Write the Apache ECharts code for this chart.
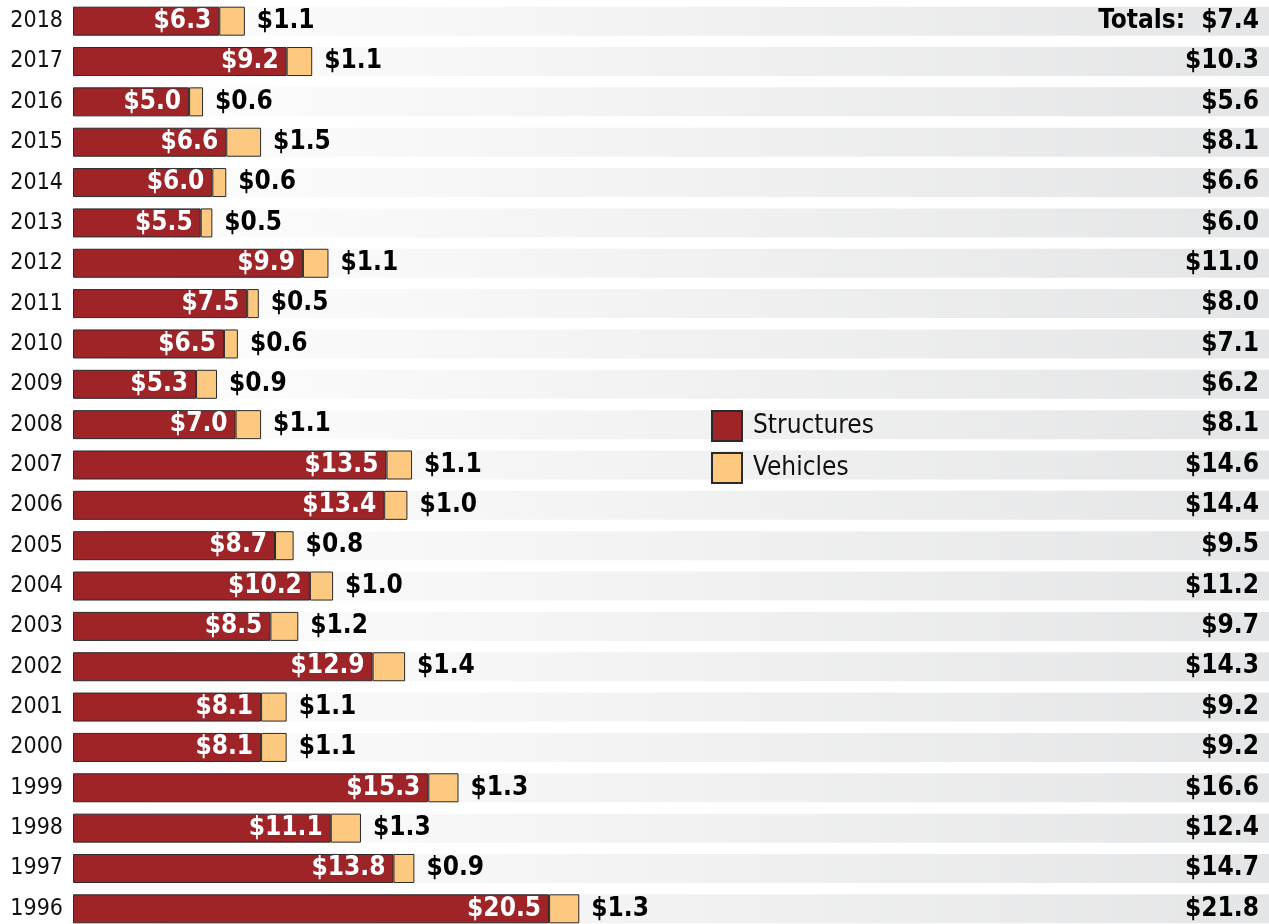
<!DOCTYPE html>
<html>
<head>
<meta charset="utf-8">
<script src="https://cdn.jsdelivr.net/npm/echarts@6/dist/echarts.min.js"></script>
<style>
    html, body { margin: 0; padding: 0; background: #fff; }
    #contain { width: 1269px; height: 924px; }
</style>
</head>
<body>
<div id="contain"></div>
<script>
// years top to bottom
var years = ['2018', '2017', '2016', '2015', '2014', '2013', '2012', '2011', '2010', '2009', '2008', '2007',
    '2006', '2005', '2004', '2003', '2002', '2001', '2000', '1999', '1998', '1997', '1996'];
var structures = [6.3, 9.2, 5.0, 6.6, 6.0, 5.5, 9.9, 7.5, 6.5, 5.3, 7.0, 13.5,
    13.4, 8.7, 10.2, 8.5, 12.9, 8.1, 8.1, 15.3, 11.1, 13.8, 20.5];
var vehicles = [1.1, 1.1, 0.6, 1.5, 0.6, 0.5, 1.1, 0.5, 0.6, 0.9, 1.1, 1.1,
    1.0, 0.8, 1.0, 1.2, 1.4, 1.1, 1.1, 1.3, 1.3, 0.9, 1.3];
var totals = [7.4, 10.3, 5.6, 8.1, 6.6, 6.0, 11.0, 8.0, 7.1, 6.2, 8.1, 14.6,
    14.4, 9.5, 11.2, 9.7, 14.3, 9.2, 9.2, 16.6, 12.4, 14.7, 21.8];

var xMax = 51.5;
var font = "'Liberation Sans Narrow', 'DejaVu Sans Condensed', 'Arial Narrow', sans-serif";

var stripe = [];
for (var i = 0; i < years.length; i++) {
    stripe.push(xMax);
}

function money(v) {
    return '$' + v.toFixed(1);
}

var option = {
    animation: false,
    grid: {
        left: 73,
        right: 0,
        top: 1,
        height: 928,
        outerBoundsMode: 'none'
    },
    legend: {
        data: ['Structures', 'Vehicles'],
        orient: 'vertical',
        left: 711,
        top: 410,
        padding: 0,
        itemWidth: 30,
        itemHeight: 30,
        itemGap: 10,
        icon: 'rect',
        textStyle: {
            fontFamily: font,
            fontSize: 26,
            lineHeight: 30,
            color: '#111',
            padding: [0, 0, 0, 6]
        }
    },
    xAxis: {
        type: 'value',
        min: 0,
        max: xMax,
        show: false
    },
    yAxis: {
        type: 'category',
        data: years,
        inverse: true,
        axisLine: { show: false },
        axisTick: { show: false },
        axisLabel: {
            margin: 10,
            fontFamily: font,
            fontSize: 23,
            color: '#111'
        }
    },
    series: [{
        name: 'bg',
        type: 'bar',
        data: stripe,
        barWidth: 29,
        barGap: '-100%',
        silent: true,
        itemStyle: {
            color: {
                type: 'linear', x: 0, y: 0, x2: 1, y2: 0,
                colorStops: [
                    { offset: 0, color: '#ffffff' },
                    { offset: 0.45, color: '#f3f3f3' },
                    { offset: 1, color: '#e4e5e6' }
                ]
            }
        },
        label: {
            show: true,
            position: 'insideRight',
            distance: 10,
            fontFamily: font,
            fontWeight: 'bold',
            fontSize: 26,
            color: '#000',
            formatter: function (p) {
                var t = money(totals[p.dataIndex]);
                return p.dataIndex == 0 ? 'Totals:  ' + t : t;
            }
        }
    }, {
        name: 'Structures',
        type: 'bar',
        stack: 'cost',
        data: structures,
        barWidth: 29,
        barGap: '-100%',
        itemStyle: {
            color: '#9e2428',
            borderColor: '#2a2a2a',
            borderWidth: 1
        },
        label: {
            show: true,
            position: 'insideRight',
            distance: 8,
            fontFamily: font,
            fontWeight: 'bold',
            fontSize: 26,
            color: '#fff',
            formatter: function (p) {
                return money(p.value);
            }
        }
    }, {
        name: 'Vehicles',
        type: 'bar',
        stack: 'cost',
        data: vehicles,
        barWidth: 29,
        barGap: '-100%',
        itemStyle: {
            color: '#fdc980',
            borderColor: '#2a2a2a',
            borderWidth: 1
        },
        label: {
            show: true,
            position: 'right',
            distance: 12,
            fontFamily: font,
            fontWeight: 'bold',
            fontSize: 26,
            color: '#000',
            formatter: function (p) {
                return money(p.value);
            }
        }
    }]
};

var myChart = echarts.init(document.getElementById('contain'));
myChart.setOption(option);
</script>
</body>
</html>
